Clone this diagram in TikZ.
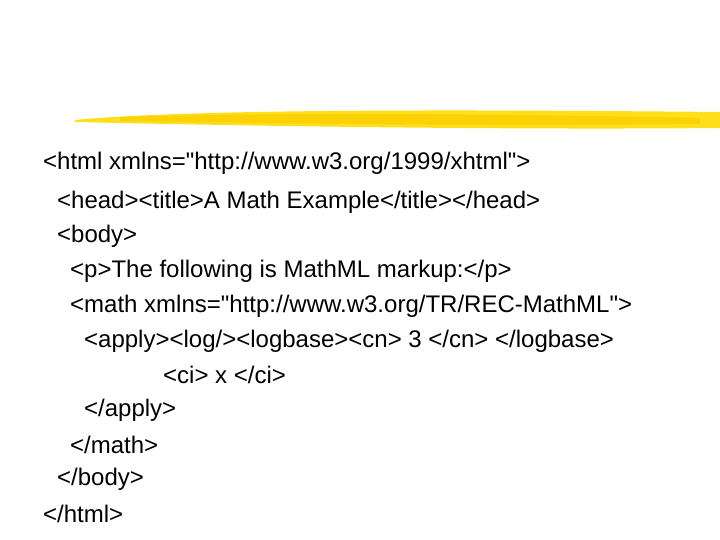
\documentclass[tikz,border=0pt]{standalone}
\usepackage{fontspec}
\setmainfont{Liberation Sans}[Ligatures=TeXOff]
\begin{document}
\begin{tikzpicture}[x=1pt,y=1pt,
  codeline/.style={anchor=west,inner sep=0pt,font=\fontsize{24}{28}\selectfont}]
\useasboundingbox (0,0) rectangle (720,540);
\fill[white] (0,0) rectangle (720,540);
% brush stroke
\fill[yellow!80!orange!90!white] (75,420) .. controls (200,432) and (500,430) .. (720,428)
  -- (720,412) .. controls (500,410) and (250,414) .. (75,418) -- cycle;
\fill[yellow!70!orange] (120,423) .. controls (300,428) and (500,426) .. (700,422)
  -- (700,416) .. controls (500,414) and (300,416) .. (120,419) -- cycle;
\node[codeline] (l1) at (43,377) {<html xmlns="http://www.w3.org/1999/xhtml">};
\node[codeline] (l2) at (57,338) {<head><title>A Math Example</title></head>};
\node[codeline] (l3) at (57,304) {<body>};
\node[codeline] (l4) at (70,269) {<p>The following is MathML markup:</p>};
\node[codeline] (l5) at (70,234) {<math xmlns="http://www.w3.org/TR/REC-MathML">};
\node[codeline] (l6) at (84,199) {<apply><log/><logbase><cn> 3 </cn> </logbase>};
\node[codeline] (l7) at (163,165) {<ci> x </ci>};
\node[codeline] (l8) at (84,130) {</apply>};
\node[codeline] (l9) at (70,95) {</math>};
\node[codeline] (l10) at (57,61) {</body>};
\node[codeline] (l11) at (43,26) {</html>};
\end{tikzpicture}
\end{document}
